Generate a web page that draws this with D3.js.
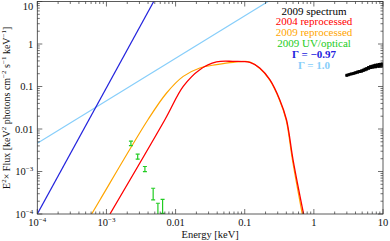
<!DOCTYPE html>
<html>
<head>
<meta charset="utf-8">
<script src="https://cdn.jsdelivr.net/npm/d3@7"></script>
<style>
  body { margin:0; background:#fff; }
</style>
</head>
<body>
<div class="g-chart"></div>
<script>
// 2004 reprocessed (red) model
var redE = [1.125e-3, 7.0e-3, 0.0129, 0.0224, 0.0391, 0.067, 0.1186, 0.165, 0.231, 0.321, 0.402, 0.5, 0.71];
var redF = [1e-4, 0.0165, 0.1005, 0.249, 0.378, 0.391, 0.370, 0.273, 0.1445, 0.0489, 0.0165, 1.88e-3, 1e-4];

// 2009 reprocessed (orange) model
var orangeE = [6.11e-4, 8.05e-4, 3.98e-3, 7.41e-3, 0.0129, 0.0224, 0.0391, 0.0679, 0.1186, 0.163, 0.228, 0.317, 0.397, 0.49, 0.68];
var orangeF = [1e-4, 2.14e-4, 0.0165, 0.0703, 0.173, 0.273, 0.327, 0.370, 0.378, 0.27, 0.144, 0.049, 0.0165, 1.88e-3, 1e-4];

// power laws
var blueE = [1e-4, 1e-2];
var blueF = [1e-4, 87];
var lightE = [1e-4, 10];
var lightF = [4.6e-3, 460];

// 2009 UV/optical points
var uvE  = [2.26e-3, 2.83e-3, 3.6e-3, 4.74e-3, 5.55e-3, 6.49e-3];
var uvLo = [4.08e-3, 1.95e-3, 9.9e-4, 2.14e-4, 9e-5, 1.04e-4];
var uvHi = [5.18e-3, 2.56e-3, 1.31e-3, 4.04e-4, 1.79e-4, 2.22e-4];

// 2009 spectrum (X-ray)
var specE = [3.0, 3.2, 3.4, 3.6, 3.8, 4.0, 4.3, 4.6, 4.9, 5.2, 5.5, 5.8, 6.2, 6.6, 7.0, 7.4, 7.8, 8.3, 8.8, 9.3, 9.8];
var specF = [0.184, 0.190, 0.196, 0.200, 0.206, 0.212, 0.218, 0.226, 0.233, 0.242, 0.252, 0.262, 0.276, 0.286, 0.294, 0.300, 0.306, 0.312, 0.316, 0.320, 0.324];
var specErr = [0.06, 0.06, 0.06, 0.06, 0.07, 0.07, 0.07, 0.08, 0.08, 0.08, 0.09, 0.09, 0.10, 0.10, 0.11, 0.11, 0.12, 0.12, 0.13, 0.13, 0.14];

var legendLabels = ["2009 spectrum", "2004 reprocessed", "2009 reprocessed", "2009 UV/optical", "\u0393 = \u22120.97", "\u0393 = 1.0"];
var legendColors = ["#000000", "#ff0000", "#ffa500", "#22cc22", "#2222dd", "#87cefa"];

var xTickVals = [1e-4, 1e-3, 0.01, 0.1, 1, 10];
var xTickText = [["10", "\u22124"], ["10", "\u22123"], ["0.01"], ["0.1"], ["1"], ["10"]];
var yTickVals = [1e-4, 1e-3, 0.01, 0.1, 1, 10];
var yTickText = [["10", "\u22124"], ["10", "\u22123"], ["0.01"], ["0.1"], ["1"], ["10"]];

var W = 390, H = 241;
var margin = {top: 1.5, left: 37.3, right: 7, bottom: 27};
var w = W - margin.left - margin.right,
    h = H - margin.top - margin.bottom;

var svg = d3.select(".g-chart").append("svg")
    .attr("width", W).attr("height", H)
    .attr("font-family", "'Liberation Serif', 'Times New Roman', serif");

var g = svg.append("g").attr("transform", "translate(" + margin.left + "," + margin.top + ")");

var x = d3.scaleLog().domain([1e-4, 10]).range([0, w]);
var y = d3.scaleLog().domain([1e-4, 10]).range([h, 0]);

g.append("clipPath").attr("id", "clip")
  .append("rect").attr("width", w).attr("height", h);

var plot = g.append("g").attr("clip-path", "url(#clip)");

function pairs(xs, ys) { return xs.map(function(v, i) { return [v, ys[i]]; }); }

var line = d3.line()
    .x(function(d) { return x(d[0]); })
    .y(function(d) { return y(d[1]); });
var smooth = d3.line()
    .x(function(d) { return x(d[0]); })
    .y(function(d) { return y(d[1]); })
    .curve(d3.curveCatmullRom.alpha(0.5));

plot.append("path").datum(pairs(lightE, lightF))
  .attr("d", line).attr("fill", "none").attr("stroke", "#87cefa").attr("stroke-width", 1.2);
plot.append("path").datum(pairs(blueE, blueF))
  .attr("d", line).attr("fill", "none").attr("stroke", "#2222dd").attr("stroke-width", 1.2);
plot.append("path").datum(pairs(orangeE, orangeF))
  .attr("d", smooth).attr("fill", "none").attr("stroke", "#ffa500").attr("stroke-width", 1.2);
plot.append("path").datum(pairs(redE, redF))
  .attr("d", smooth).attr("fill", "none").attr("stroke", "#ff0000").attr("stroke-width", 1.3);

// UV/optical error bars
var uv = plot.selectAll(".uv").data(uvE).enter().append("g").attr("class", "uv")
  .attr("stroke", "#22cc22").attr("stroke-width", 1.2);
uv.append("line")
  .attr("x1", function(d) { return x(d); }).attr("x2", function(d) { return x(d); })
  .attr("y1", function(d, i) { return y(uvLo[i]); }).attr("y2", function(d, i) { return y(uvHi[i]); });
uv.append("line")
  .attr("x1", function(d) { return x(d) - 2; }).attr("x2", function(d) { return x(d) + 2; })
  .attr("y1", function(d, i) { return y(uvLo[i]); }).attr("y2", function(d, i) { return y(uvLo[i]); });
uv.append("line")
  .attr("x1", function(d) { return x(d) - 2; }).attr("x2", function(d) { return x(d) + 2; })
  .attr("y1", function(d, i) { return y(uvHi[i]); }).attr("y2", function(d, i) { return y(uvHi[i]); });

// X-ray spectrum
var sp = plot.selectAll(".spec").data(specE).enter().append("g").attr("class", "spec")
  .attr("stroke", "#000").attr("stroke-width", 3);
sp.append("line")
  .attr("x1", function(d) { return x(d); }).attr("x2", function(d) { return x(d); })
  .attr("y1", function(d, i) { return y(specF[i] * (1 - specErr[i])); })
  .attr("y2", function(d, i) { return y(specF[i] * (1 + specErr[i])); });
sp.append("line")
  .attr("x1", function(d, i) { return x(i ? (specE[i - 1] + d) / 2 : d * 0.96); })
  .attr("x2", function(d, i) { return x(i < specE.length - 1 ? (specE[i + 1] + d) / 2 : d * 1.04); })
  .attr("y1", function(d, i) { return y(specF[i]); }).attr("y2", function(d, i) { return y(specF[i]); });

// ticks (inward, all four sides)
var minorX = [], minorY = [];
[1e-4, 1e-3, 1e-2, 1e-1, 1].forEach(function(dec) {
  for (var k = 2; k < 10; k++) { minorX.push(dec * k); minorY.push(dec * k); }
});
var tk = g.append("g").attr("stroke", "#333").attr("stroke-width", 0.7);
function ticksX(vals, len) {
  vals.forEach(function(v) {
    tk.append("line").attr("x1", x(v)).attr("x2", x(v)).attr("y1", h).attr("y2", h - len);
    tk.append("line").attr("x1", x(v)).attr("x2", x(v)).attr("y1", 0).attr("y2", len);
  });
}
function ticksY(vals, len) {
  vals.forEach(function(v) {
    tk.append("line").attr("y1", y(v)).attr("y2", y(v)).attr("x1", 0).attr("x2", len);
    tk.append("line").attr("y1", y(v)).attr("y2", y(v)).attr("x1", w).attr("x2", w - len);
  });
}
ticksX(xTickVals, 5); ticksX(minorX, 2.5);
ticksY(yTickVals, 5); ticksY(minorY, 2.5);

g.append("rect").attr("width", w).attr("height", h)
  .attr("fill", "none").attr("stroke", "#333").attr("stroke-width", 0.8);

// tick labels
function label(sel, parts) {
  sel.append("tspan").text(parts[0]);
  if (parts[1]) sel.append("tspan").attr("dy", -4).attr("font-size", 7).text(parts[1]);
}
xTickVals.forEach(function(v, i) {
  var t = g.append("text").attr("x", x(v)).attr("y", h + 12)
    .attr("text-anchor", "middle").attr("font-size", 10.5).attr("fill", "#111");
  label(t, xTickText[i]);
});
yTickVals.forEach(function(v, i) {
  var t = g.append("text").attr("x", -4).attr("y", Math.max(y(v) + 3.5, 8))
    .attr("text-anchor", "end").attr("font-size", 10.5).attr("fill", "#111");
  label(t, yTickText[i]);
});

// axis titles
g.append("text").attr("x", w / 2).attr("y", h + 24).attr("text-anchor", "middle")
  .attr("font-size", 10.5).attr("fill", "#111").text("Energy [keV]");

var yl = svg.append("text").attr("transform", "translate(10," + (margin.top + h / 2) + ") rotate(-90)")
  .attr("text-anchor", "middle").attr("font-size", 10).attr("fill", "#111");
[["E"], ["2", 1], ["\u00d7 Flux [keV"], ["2", 1], [" photons cm"], ["\u22122", 1], [" s"], ["\u22121", 1], [" keV"], ["\u22121", 1], ["]"]]
  .forEach(function(p) {
    var ts = yl.append("tspan").text(p[0]);
    if (p[1]) ts.attr("baseline-shift", "super").attr("font-size", 7);
  });

// legend
var leg = svg.append("g").attr("transform", "translate(314,0)");
legendLabels.forEach(function(s, i) {
  leg.append("text").attr("x", 0).attr("y", 14.5 + i * 10.9)
    .attr("text-anchor", "middle").attr("font-size", 11)
    .attr("font-weight", i >= 4 ? "bold" : "normal")
    .attr("fill", legendColors[i]).text(s);
});
</script>
</body>
</html>
